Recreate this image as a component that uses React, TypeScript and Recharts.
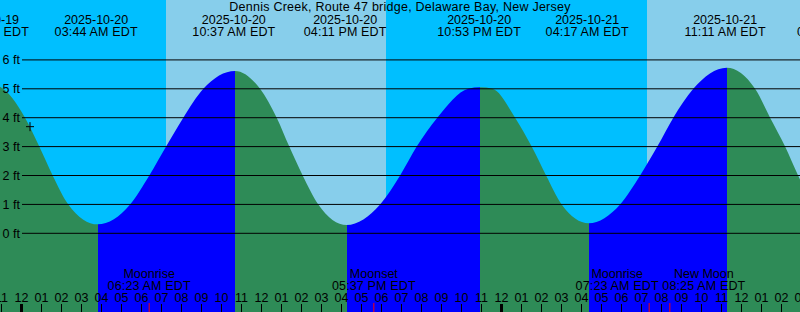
import {
  ComposedChart,
  Area,
  XAxis,
  YAxis,
  ReferenceArea,
  ReferenceLine,
  ReferenceDot,
} from 'recharts';

// hours since 2025-10-20 00:00 EDT
const TIDE_HOURS = [
  -1.72, -1.075, 0.175, 0.89, 1.56, 2.34, 3.81, 5.43, 6.39, 7.23, 8.09, 9.09, 10.67,
  11.93, 12.76, 13.39, 14.06, 14.84, 16.26, 17.93, 18.93, 19.76, 20.79, 22.34, 22.93,
  23.55, 24.68, 25.51, 26.23, 27.01, 28.36, 29.93, 30.93, 31.79, 32.59, 33.59, 35.26,
  36.68, 37.43, 38.18, 38.83, 39.5,
];
const TIDE_FEET = [
  5.18, 5.07, 4.0, 3.0, 2.0, 1.0, 0.31, 1.0, 2.0, 3.0, 4.0, 5.0, 5.62,
  5.0, 4.0, 3.0, 2.0, 1.0, 0.29, 1.0, 2.0, 3.0, 4.0, 5.0, 5.05,
  5.0, 4.0, 3.0, 2.0, 1.0, 0.35, 1.0, 2.0, 3.0, 4.0, 5.0, 5.73,
  5.0, 4.0, 3.0, 2.0, 1.1,
];

// highs and lows, as labelled at the top
const EVENT_HOURS = [-1.72, 3.733, 10.617, 16.183, 22.883, 28.283, 35.183, 40.87];
const EVENT_DATES = [
  '2025-10-19', '2025-10-20', '2025-10-20', '2025-10-20',
  '2025-10-20', '2025-10-21', '2025-10-21', '2025-10-21',
];
const EVENT_TIMES = [
  '10:17 PM EDT', '03:44 AM EDT', '10:37 AM EDT', '04:11 PM EDT',
  '10:53 PM EDT', '04:17 AM EDT', '11:11 AM EDT', '04:52 PM EDT',
];

const MOON_HOURS = [6.383, 17.617, 31.383, 32.417];
const MOON_NAMES = ['Moonrise', 'Moonset', 'Moonrise', 'New Moon'];
const MOON_TIMES = ['06:23 AM EDT', '05:37 PM EDT', '07:23 AM EDT', '08:25 AM EDT'];
// the two crowded labels are pushed apart (px)
const MOON_LABEL_SHIFT = [0, 0, -32, 34];

const SUNRISE_HOURS = [7.225, 31.275];
const SUNSET_HOURS = [18.225, 42.2];

const FEET_LINES = [0, 1, 2, 3, 4, 5, 6];
const HOUR_TICKS = Array.from({ length: 41 }, (_, i) => i - 1);

const MARK_HOUR = 0.425;
const MARK_FEET = 3.69;

const TITLE = 'Dennis Creek, Route 47 bridge, Delaware Bay, New Jersey';

const T0 = -1.075;
const T1 = 38.925;
const Y_MIN = -2.723;
const Y_MAX = 8.073;
const GRID_START = 0.025;

const W = 800;
const H = 312;
const NIGHT = '#00BFFF';
const DAY = '#87CEEB';
const EBB = '#2E8B57';
const FLOOD = '#0000FF';
const FONT = '"Liberation Sans", Arial, sans-serif';
const FS = 12.5;

const data = TIDE_HOURS.map((t, i) => ({ t, ft: TIDE_FEET[i] }));

// hard colour change at every high/low: green while falling, blue while rising
const stops: { off: number; color: string }[] = [];
for (let i = 1; i < TIDE_FEET.length - 1; i++) {
  const prev = TIDE_FEET[i] - TIDE_FEET[i - 1];
  const next = TIDE_FEET[i + 1] - TIDE_FEET[i];
  if (prev * next < 0) {
    const off = (TIDE_HOURS[i] - T0) / (T1 - T0);
    stops.push({ off, color: prev > 0 ? FLOOD : EBB });
    stops.push({ off, color: prev > 0 ? EBB : FLOOD });
  }
}
const firstColor = TIDE_FEET[1] < TIDE_FEET[0] ? EBB : FLOOD;
const lastColor = stops.length ? stops[stops.length - 1].color : firstColor;

const hourLabel = (h: number) => {
  const hr = (((h % 12) + 12) % 12) || 12;
  return hr < 10 ? `0${hr}` : `${hr}`;
};

const txt = { fontFamily: FONT, fontSize: FS, fill: '#000' };

export default function App() {
  return (
    <div
      style={{
        position: 'absolute',
        left: 0,
        top: 0,
        width: W,
        height: H,
        background: NIGHT,
        overflow: 'hidden',
      }}
    >
      <ComposedChart width={W} height={H} data={data} margin={{ top: 0, right: 0, bottom: 0, left: 0 }}>
        <defs>
          <linearGradient id="tideFill" gradientUnits="userSpaceOnUse" x1={0} y1={0} x2={W} y2={0}>
            <stop offset={0} stopColor={firstColor} />
            {stops.map((s, i) => (
              <stop key={i} offset={s.off} stopColor={s.color} />
            ))}
            <stop offset={1} stopColor={lastColor} />
          </linearGradient>
        </defs>
        <XAxis dataKey="t" type="number" domain={[T0, T1]} allowDataOverflow hide />
        <YAxis type="number" domain={[Y_MIN, Y_MAX]} allowDataOverflow hide />
        {SUNRISE_HOURS.map((t, i) => (
          <ReferenceArea
            key={`day-${i}`}
            x1={t}
            x2={Math.min(SUNSET_HOURS[i], T1)}
            y1={Y_MIN}
            y2={Y_MAX}
            fill={DAY}
            fillOpacity={1}
            stroke="none"
            ifOverflow="hidden"
          />
        ))}
        <Area
          dataKey="ft"
          type="monotone"
          stroke="none"
          fill="url(#tideFill)"
          fillOpacity={1}
          baseValue="dataMin"
          isAnimationActive={false}
          dot={false}
          activeDot={false}
        />
        {FEET_LINES.map((k) => (
          <ReferenceLine
            key={`ft-${k}`}
            segment={[
              { x: GRID_START, y: k },
              { x: T1, y: k },
            ]}
            stroke="#000"
            strokeWidth={1}
            label={(p: any) => (
              <text x={2.5} y={p.viewBox.y + 4.5} {...txt}>
                {`${k} ft`}
              </text>
            )}
          />
        ))}
        <ReferenceDot
          x={MARK_HOUR}
          y={MARK_FEET}
          r={4}
          shape={(p: any) => (
            <path
              d={`M${p.cx - 4},${p.cy}H${p.cx + 4}M${p.cx},${p.cy - 4.5}V${p.cy + 4.5}`}
              stroke="#000"
              strokeWidth={1}
              fill="none"
            />
          )}
        />
        {HOUR_TICKS.map((h) => (
          <ReferenceLine
            key={`h-${h}`}
            x={h}
            stroke="none"
            ifOverflow="visible"
            label={(p: any) => (
              <g>
                <text x={p.viewBox.x} y={302} textAnchor="middle" {...txt}>
                  {hourLabel(h)}
                </text>
                <line
                  x1={p.viewBox.x}
                  x2={p.viewBox.x}
                  y1={304}
                  y2={312}
                  stroke="#000"
                  strokeWidth={((h % 24) + 24) % 24 === 0 ? 3 : 1}
                />
              </g>
            )}
          />
        ))}
        {EVENT_HOURS.map((t, i) => (
          <ReferenceLine
            key={`ev-${i}`}
            x={t}
            stroke="none"
            ifOverflow="visible"
            label={(p: any) => (
              <g>
                <text x={p.viewBox.x} y={24} textAnchor="middle" {...txt}>
                  {EVENT_DATES[i]}
                </text>
                <text x={p.viewBox.x} y={36} textAnchor="middle" letterSpacing={0.15} {...txt}>
                  {EVENT_TIMES[i]}
                </text>
              </g>
            )}
          />
        ))}
        {MOON_HOURS.map((t, i) => (
          <ReferenceLine
            key={`moon-${i}`}
            x={t}
            stroke="none"
            label={(p: any) => (
              <g>
                <text x={p.viewBox.x + MOON_LABEL_SHIFT[i]} y={278} textAnchor="middle" {...txt}>
                  {MOON_NAMES[i]}
                </text>
                <text x={p.viewBox.x + MOON_LABEL_SHIFT[i]} y={289.5} textAnchor="middle" letterSpacing={0.15} {...txt}>
                  {MOON_TIMES[i]}
                </text>
                <line x1={p.viewBox.x} x2={p.viewBox.x} y1={303} y2={312} stroke="#FF0000" strokeWidth={1} />
              </g>
            )}
          />
        ))}
      </ComposedChart>
      <svg
        width={W}
        height={H}
        style={{ position: 'absolute', left: 0, top: 0, pointerEvents: 'none' }}
      >
        <text x={W / 2} y={11} textAnchor="middle" letterSpacing={0.25} {...txt}>
          {TITLE}
        </text>
      </svg>
    </div>
  );
}
